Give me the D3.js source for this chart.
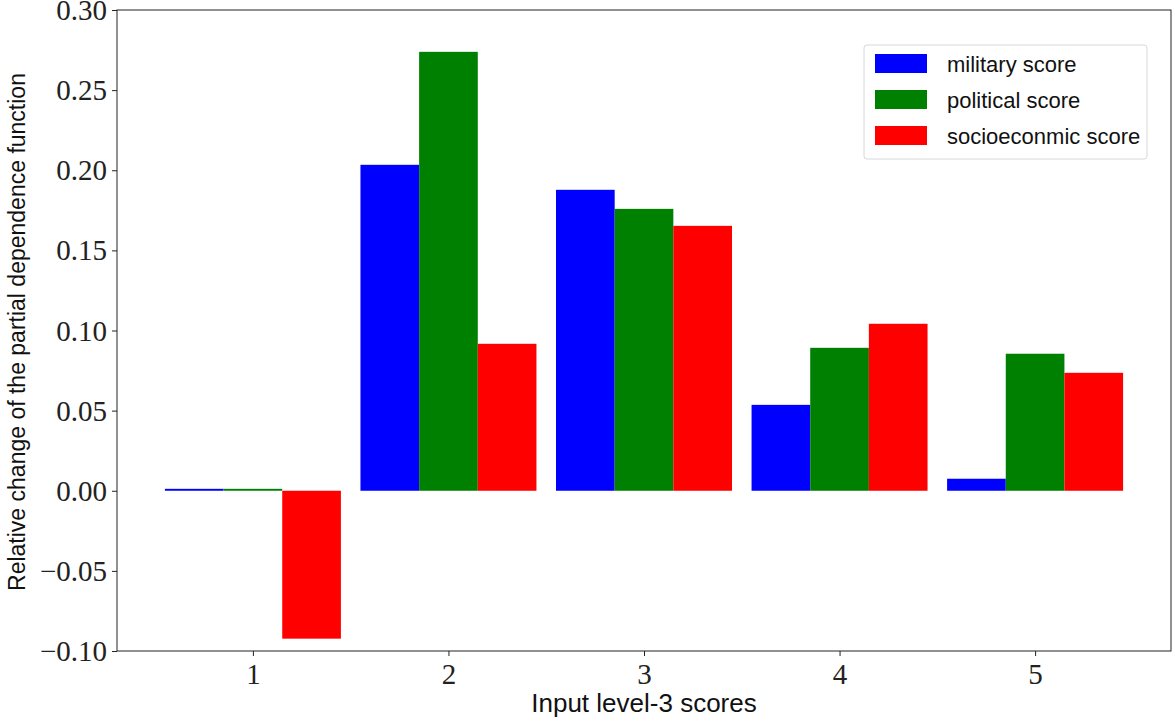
<!DOCTYPE html>
<html>
<head>
<meta charset="utf-8">
<script src="https://cdn.jsdelivr.net/npm/d3@7"></script>
<style>
  body { margin: 0; background: #fff; }
  svg { display: block; }
</style>
</head>
<body>
<div id="chart"></div>
<script>

// data
var levels = [1, 2, 3, 4, 5];
var seriesNames = ["military score", "political score", "socioeconmic score"];
var seriesColors = ["#0000ff", "#008000", "#ff0000"];
var military = [0.0012, 0.2034, 0.1878, 0.0536, 0.0075];
var political = [0.0012, 0.2739, 0.1759, 0.0892, 0.0855];
var socio = [-0.0923, 0.0917, 0.1653, 0.1042, 0.0736];
var yTicks = [-0.10, -0.05, 0.00, 0.05, 0.10, 0.15, 0.20, 0.25, 0.30];

var W = 1175, H = 721;
var pLeft = 117, pRight = 1171, pTop = 10, pBottom = 651;
var barW = 0.3;

var svg = d3.select("#chart").append("svg")
  .attr("width", W)
  .attr("height", H);

var x = d3.scaleLinear().domain([0.305, 5.695]).range([pLeft, pRight]);
var y = d3.scaleLinear().domain([-0.10, 0.30]).range([pBottom, pTop]);

var allSeries = [military, political, socio];

// bars
allSeries.forEach(function(vals, si) {
  svg.append("g")
    .selectAll("rect")
    .data(vals)
    .enter().append("rect")
    .attr("x", function(d, i) { return x(levels[i] + (si - 1) * barW - barW / 2); })
    .attr("width", function() { return x(barW) - x(0); })
    .attr("y", function(d) { return y(Math.max(0, d)); })
    .attr("height", function(d) { return Math.abs(y(d) - y(0)); })
    .attr("fill", seriesColors[si]);
});

// axes
var serif = "'Liberation Serif', 'DejaVu Serif', serif";
var sans = "'Liberation Sans', 'DejaVu Sans', sans-serif";

var xAxis = svg.append("g")
  .attr("transform", "translate(0," + pBottom + ")")
  .call(d3.axisBottom(x).tickValues(levels).tickFormat(d3.format("d")).tickSizeInner(5).tickSizeOuter(0).tickPadding(5));

var yAxis = svg.append("g")
  .attr("transform", "translate(" + pLeft + ",0)")
  .call(d3.axisLeft(y).tickValues(yTicks)
    .tickFormat(function(d) { return d3.format(".2f")(d).replace("-", "\u2212"); })
    .tickSizeInner(5).tickSizeOuter(0).tickPadding(5));

[xAxis, yAxis].forEach(function(a) {
  a.select(".domain").remove();
  a.selectAll("line").attr("stroke", "#222").attr("stroke-width", 1);
  a.selectAll("text").attr("fill", "#222").style("font-family", serif).style("font-size", "29px");
});
xAxis.selectAll("text").attr("dy", "0.8em");
yAxis.selectAll("text").attr("dy", "0.33em");

// frame
svg.append("rect")
  .attr("x", pLeft).attr("y", pTop)
  .attr("width", pRight - pLeft).attr("height", pBottom - pTop)
  .attr("fill", "none").attr("stroke", "#222").attr("stroke-width", 1);

// axis titles
svg.append("text")
  .attr("x", (pLeft + pRight) / 2).attr("y", 712)
  .attr("text-anchor", "middle")
  .style("font-family", sans).style("font-size", "26px")
  .attr("fill", "#111")
  .text("Input level-3 scores");

svg.append("text")
  .attr("transform", "translate(25,332) rotate(-90)")
  .attr("text-anchor", "middle")
  .style("font-family", sans).style("font-size", "23px")
  .attr("fill", "#111")
  .text("Relative change of the partial dependence function");

// legend
var lg = svg.append("g").attr("transform", "translate(864,45)");
lg.append("rect")
  .attr("width", 283).attr("height", 114)
  .attr("rx", 3)
  .attr("fill", "#fff").attr("stroke", "#d8d8d8").attr("stroke-width", 1);
var rows = lg.selectAll("g.row").data(seriesNames).enter().append("g")
  .attr("class", "row")
  .attr("transform", function(d, i) { return "translate(0," + (9 + i * 36) + ")"; });
rows.append("rect")
  .attr("x", 11).attr("width", 52).attr("height", 19)
  .attr("fill", function(d, i) { return seriesColors[i]; });
rows.append("text")
  .attr("x", 83).attr("y", 10).attr("dy", "0.35em")
  .style("font-family", sans).style("font-size", "22px")
  .attr("fill", "#111")
  .text(function(d) { return d; });

</script>
</body>
</html>
